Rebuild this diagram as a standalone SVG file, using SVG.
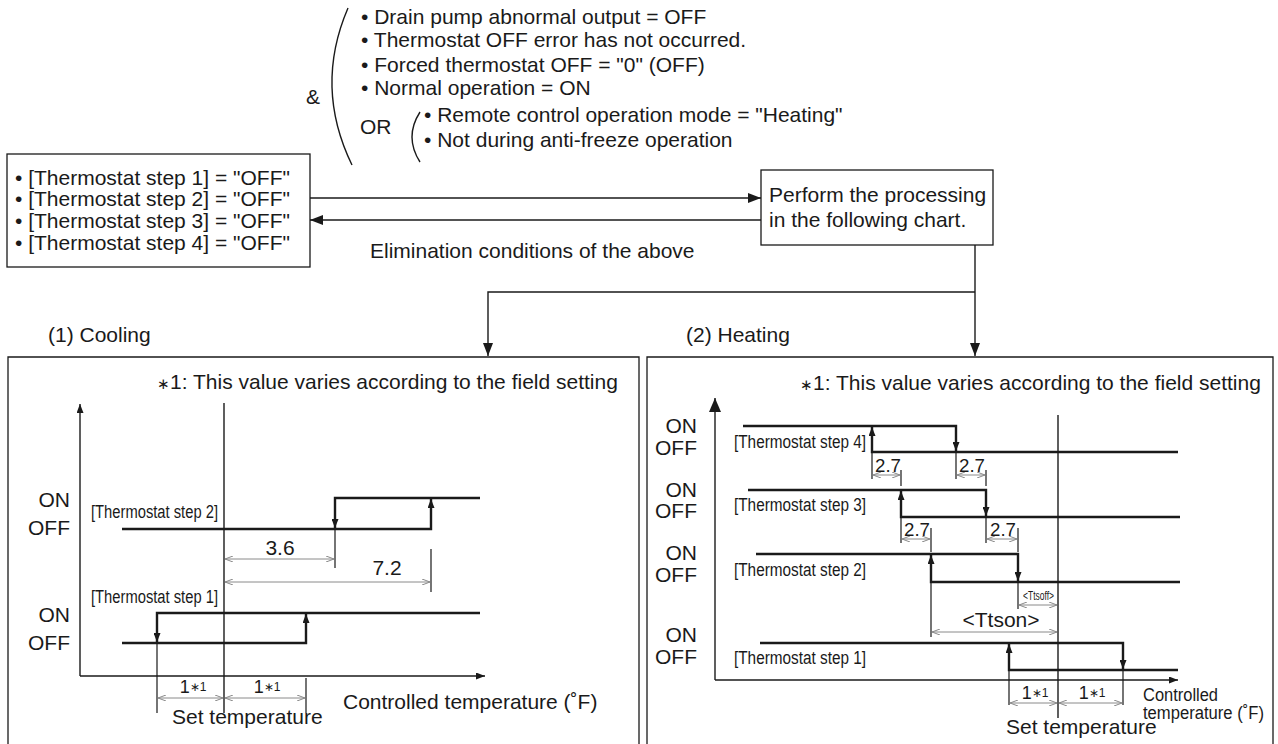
<svg xmlns="http://www.w3.org/2000/svg" width="1278" height="744" viewBox="0 0 1278 744">
<style>
.t{font-family:"Liberation Sans",Arial,sans-serif;font-size:21px;fill:#1a1a1a}
.s{font-family:"Liberation Sans",Arial,sans-serif;font-size:18px;fill:#1a1a1a}
.x{font-family:"Liberation Sans",Arial,sans-serif;font-size:12px;fill:#1a1a1a}
.box{fill:#fff;stroke:#1a1a1a;stroke-width:1.3}
.ln{fill:none;stroke:#1a1a1a;stroke-width:1.4}
.step{fill:none;stroke:#1a1a1a;stroke-width:2.4}
.ext{fill:none;stroke:#1a1a1a;stroke-width:1.2}
.dim{fill:none;stroke:#8a8a8a;stroke-width:1;marker-start:url(#da);marker-end:url(#da)}
.ax{fill:none;stroke:#1a1a1a;stroke-width:1.4}
</style>
<defs>
<marker id="ah" viewBox="0 0 13 10" refX="13" refY="5" markerWidth="13" markerHeight="10" markerUnits="userSpaceOnUse" orient="auto"><path d="M0,0 L13,5 L0,10 z" fill="#1a1a1a"/></marker>
<marker id="sa" viewBox="0 0 9 7" refX="9" refY="3.5" markerWidth="9" markerHeight="7" markerUnits="userSpaceOnUse" orient="auto"><path d="M0,0 L9,3.5 L0,7 z" fill="#1a1a1a"/></marker>
<marker id="ya" viewBox="0 0 14 12" refX="14" refY="6" markerWidth="14" markerHeight="12" markerUnits="userSpaceOnUse" orient="auto"><path d="M0,0 L14,6 L0,12 z" fill="#1a1a1a"/></marker>
<marker id="da" viewBox="0 0 8 6" refX="8" refY="3" markerWidth="8" markerHeight="6" markerUnits="userSpaceOnUse" orient="auto-start-reverse"><path d="M0,0 L8,3 L0,6" fill="none" stroke="#8a8a8a" stroke-width="1"/></marker>
</defs>

<g id="conditions">
<text class="t" x="306" y="104">&amp;</text>
<path class="ln" d="M348,8 Q314,87 352,165" stroke-width="1.1"/>
<text class="t" x="361" y="24" font-size="21.5">• Drain pump abnormal output = OFF</text>
<text class="t" x="361" y="47" font-size="21.5">• Thermostat OFF error has not occurred.</text>
<text class="t" x="361" y="72" font-size="21.5">• Forced thermostat OFF = "0" (OFF)</text>
<text class="t" x="361" y="95" font-size="21.5">• Normal operation = ON</text>
<text class="t" x="360" y="134" font-size="21.5">OR</text>
<path class="ln" d="M420,112 Q404,137 420,162" stroke-width="1.1"/>
<text class="t" x="424" y="122" font-size="21.5">• Remote control operation mode = "Heating"</text>
<text class="t" x="424" y="147" font-size="21.5">• Not during anti-freeze operation</text>
</g>

<g id="thermo-off">
<rect class="box" x="7" y="154" width="303" height="113"/>
<text class="t" x="15" y="185" font-size="21.3">• [Thermostat step 1] = "OFF"</text>
<text class="t" x="15" y="206" font-size="21.3">• [Thermostat step 2] = "OFF"</text>
<text class="t" x="15" y="228" font-size="21.3">• [Thermostat step 3] = "OFF"</text>
<text class="t" x="15" y="250" font-size="21.3">• [Thermostat step 4] = "OFF"</text>
</g>

<g id="process">
<rect class="box" x="761" y="170" width="232" height="75"/>
<text class="t" x="769" y="202">Perform the processing</text>
<text class="t" x="769" y="227">in the following chart.</text>
</g>

<g id="connectors">
<path class="ln" d="M310,198 H761" marker-end="url(#ah)"/>
<path class="ln" d="M761,220 H310" marker-end="url(#ah)"/>
<text class="t" x="370" y="258">Elimination conditions of the above</text>
<path class="ln" d="M975,245 V356" marker-end="url(#ah)"/>
<path class="ln" d="M975,292 H488 V356" marker-end="url(#ah)"/>
</g>

<g id="cooling">
<text class="t" x="48" y="342">(1) Cooling</text>
<path class="box" d="M8,760 V357 H639 V760" fill="none"/>
<text class="t" x="157" y="389"><tspan font-size="15">∗</tspan>1: This value varies according to the field setting</text>
<path class="ax" d="M80,676 V404" marker-end="url(#sa)"/>
<path class="ax" d="M80,676 H485" marker-end="url(#sa)"/>
<path class="ln" d="M224,403 V713" stroke-width="1.3"/>
<text class="t" x="70" y="507" text-anchor="end">ON</text>
<text class="t" x="70" y="535" text-anchor="end">OFF</text>
<text class="t" x="70" y="622" text-anchor="end">ON</text>
<text class="t" x="70" y="650" text-anchor="end">OFF</text>
<text class="s" x="91" y="518" textLength="127" lengthAdjust="spacingAndGlyphs">[Thermostat step 2]</text>
<text class="s" x="91" y="603" textLength="127" lengthAdjust="spacingAndGlyphs">[Thermostat step 1]</text>
<path class="step" d="M122,529 H431 V499" marker-end="url(#sa)"/>
<path class="step" d="M480,498 H335 V528" marker-end="url(#sa)"/>
<path class="ext" d="M335,529 V568 M431,549 V592"/>
<path class="dim" d="M225,559 H334"/>
<text class="t" x="280" y="555" text-anchor="middle">3.6</text>
<path class="dim" d="M225,582 H430"/>
<text class="t" x="387" y="575" text-anchor="middle">7.2</text>
<path class="step" d="M122,643 H306 V614" marker-end="url(#sa)"/>
<path class="step" d="M480,613 H157 V642" marker-end="url(#sa)"/>
<path class="ext" d="M157,643 V713 M306,678 V713"/>
<path class="dim" d="M158,698 H223"/>
<path class="dim" d="M225,698 H305"/>
<text class="s" x="193" y="693" text-anchor="middle">1<tspan font-size="12" dy="-2">∗1</tspan></text>
<text class="s" x="267" y="693" text-anchor="middle">1<tspan font-size="12" dy="-2">∗1</tspan></text>
<text class="t" x="343" y="709">Controlled temperature (˚F)</text>
<text class="t" x="172" y="724">Set temperature</text>
</g>

<g id="heating">
<text class="t" x="686" y="342">(2) Heating</text>
<path class="box" d="M647,760 V357 H1273 V760" fill="none"/>
<text class="t" x="800" y="390"><tspan font-size="15">∗</tspan>1: This value varies according to the field setting</text>
<path class="ax" d="M715,680 V398" marker-end="url(#ya)"/>
<path class="ax" d="M715,680 H1178" marker-end="url(#sa)"/>
<path class="ln" d="M1058,415 V718" stroke-width="1.3"/>
<text class="t" x="697" y="433" text-anchor="end">ON</text>
<text class="t" x="697" y="455" text-anchor="end">OFF</text>
<text class="t" x="697" y="497" text-anchor="end">ON</text>
<text class="t" x="697" y="518" text-anchor="end">OFF</text>
<text class="t" x="697" y="560" text-anchor="end">ON</text>
<text class="t" x="697" y="582" text-anchor="end">OFF</text>
<text class="t" x="697" y="642" text-anchor="end">ON</text>
<text class="t" x="697" y="664" text-anchor="end">OFF</text>
<text class="s" x="734" y="448" textLength="132" lengthAdjust="spacingAndGlyphs">[Thermostat step 4]</text>
<text class="s" x="734" y="511" textLength="132" lengthAdjust="spacingAndGlyphs">[Thermostat step 3]</text>
<text class="s" x="734" y="576" textLength="132" lengthAdjust="spacingAndGlyphs">[Thermostat step 2]</text>
<text class="s" x="734" y="664" textLength="132" lengthAdjust="spacingAndGlyphs">[Thermostat step 1]</text>
<!-- step 4 -->
<path class="step" d="M743,426 H956 V451" marker-end="url(#sa)"/>
<path class="step" d="M1178,452 H872 V427" marker-end="url(#sa)"/>
<path class="ext" d="M872,452 V479 M901,470 V486 M956,452 V479 M986,470 V486"/>
<path class="dim" d="M873,475 H900"/>
<path class="dim" d="M957,475 H985"/>
<text class="s" x="875" y="472" textLength="26" lengthAdjust="spacingAndGlyphs">2.7</text>
<text class="s" x="959" y="472" textLength="26" lengthAdjust="spacingAndGlyphs">2.7</text>
<!-- step 3 -->
<path class="step" d="M748,490 H986 V516" marker-end="url(#sa)"/>
<path class="step" d="M1180,517 H901 V491" marker-end="url(#sa)"/>
<path class="ext" d="M901,517 V543 M931,528 V552 M986,517 V543 M1018,528 V552"/>
<path class="dim" d="M902,539 H930"/>
<path class="dim" d="M987,539 H1017"/>
<text class="s" x="904" y="536" textLength="26" lengthAdjust="spacingAndGlyphs">2.7</text>
<text class="s" x="990" y="536" textLength="26" lengthAdjust="spacingAndGlyphs">2.7</text>
<!-- step 2 -->
<path class="step" d="M756,554 H1018 V581" marker-end="url(#sa)"/>
<path class="step" d="M1180,582 H931 V555" marker-end="url(#sa)"/>
<path class="ext" d="M931,582 V637 M1018,582 V609"/>
<path class="dim" d="M1019,605 H1057"/>
<text class="x" x="1023" y="600" textLength="31" lengthAdjust="spacingAndGlyphs">&lt;Ttsoff&gt;</text>
<path class="dim" d="M932,632 H1057"/>
<text class="t" x="1001" y="627" text-anchor="middle">&lt;Ttson&gt;</text>
<!-- step 1 -->
<path class="step" d="M760,643 H1123 V669" marker-end="url(#sa)"/>
<path class="step" d="M1178,670 H1009 V644" marker-end="url(#sa)"/>
<path class="ext" d="M1009,670 V705 M1123,670 V705"/>
<path class="dim" d="M1010,703 H1057"/>
<path class="dim" d="M1059,703 H1122"/>
<text class="s" x="1035" y="699" text-anchor="middle">1<tspan font-size="12" dy="-2">∗1</tspan></text>
<text class="s" x="1092" y="699" text-anchor="middle">1<tspan font-size="12" dy="-2">∗1</tspan></text>
<text class="s" x="1143" y="701" textLength="75" lengthAdjust="spacingAndGlyphs">Controlled</text>
<text class="s" x="1143" y="719" textLength="121" lengthAdjust="spacingAndGlyphs">temperature (˚F)</text>
<text class="t" x="1006" y="734">Set temperature</text>
</g>
</svg>
